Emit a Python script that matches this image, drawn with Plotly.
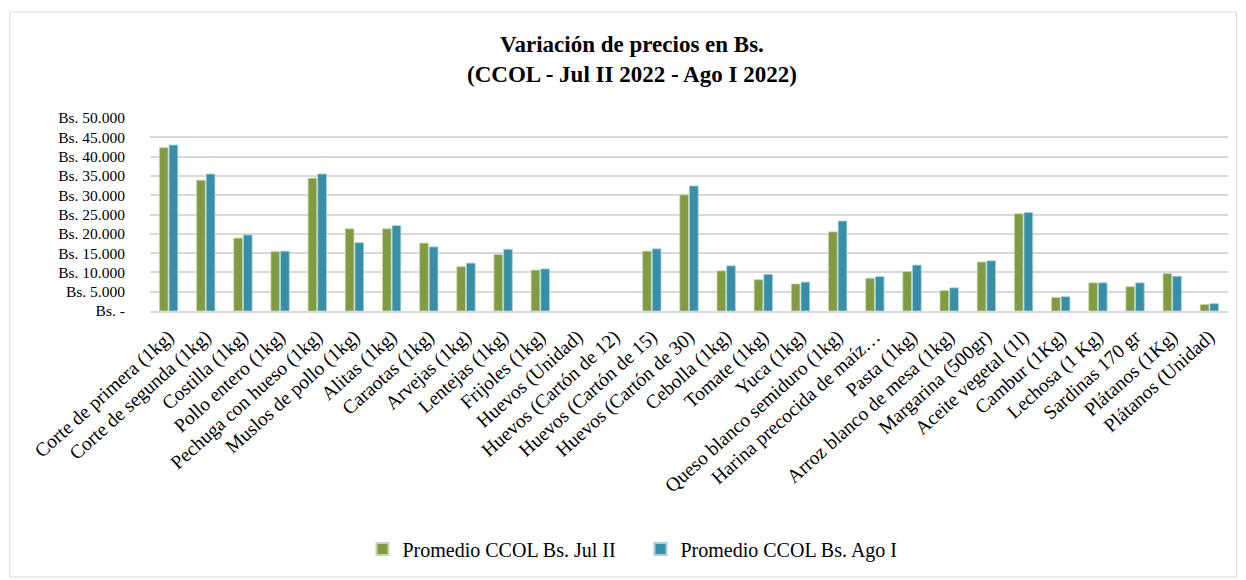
import plotly.graph_objects as go

# productos y precios promedio (Bs.)
productos = [
    "Corte de primera (1kg)", "Corte de segunda (1kg)", "Costilla (1kg)",
    "Pollo entero (1kg)", "Pechuga con hueso (1kg)", "Muslos de pollo (1kg)",
    "Alitas (1kg)", "Caraotas (1kg)", "Arvejas (1kg)", "Lentejas (1kg)",
    "Frijoles (1kg)", "Huevos (Unidad)", "Huevos (Cartón de 12)",
    "Huevos (Cartón de 15)", "Huevos (Cartón de 30)", "Cebolla (1kg)",
    "Tomate (1kg)", "Yuca (1kg)", "Queso blanco semiduro (1kg)",
    "Harina precocida de maíz…", "Pasta (1kg)", "Arroz blanco de mesa (1kg)",
    "Margarina (500gr)", "Aceite vegetal (1l)", "Cambur (1Kg)",
    "Lechosa (1 Kg)", "Sardinas 170 gr", "Plátanos (1Kg)", "Plátanos (Unidad)",
]
jul_ii = [42300, 33900, 18900, 15400, 34400, 21300, 21300, 17600, 11500, 14600,
          10600, None, None, 15500, 30100, 10400, 8100, 7000, 20500,
          8500, 10200, 5300, 12700, 25200, 3500, 7300, 6300, 9700, 1700]
ago_i = [43000, 35500, 19700, 15500, 35500, 17700, 22100, 16600, 12400, 16000,
         10900, None, None, 16100, 32400, 11700, 9500, 7500, 23300,
         8900, 11900, 6000, 13000, 25500, 3700, 7300, 7300, 9000, 1900]

tick_vals = [0, 5000, 10000, 15000, 20000, 25000, 30000, 35000, 40000, 45000, 50000]
tick_text = ["Bs. -", "Bs. 5.000", "Bs. 10.000", "Bs. 15.000", "Bs. 20.000",
             "Bs. 25.000", "Bs. 30.000", "Bs. 35.000", "Bs. 40.000",
             "Bs. 45.000", "Bs. 50.000"]

fuente = "Liberation Serif"

fig = go.Figure()
fig.add_trace(go.Bar(x=productos, y=jul_ii, name="Promedio CCOL Bs. Jul II",
                     marker=dict(color="#809b41", line=dict(color="#c9d6ad", width=0.8))))
fig.add_trace(go.Bar(x=productos, y=ago_i, name="Promedio CCOL Bs. Ago I",
                     marker=dict(color="#378fa7", line=dict(color="#a9d0dc", width=0.8))))

# la página tiene 8px de margen en el body, se compensa aquí
fig.update_layout(
    width=1238, height=572,
    paper_bgcolor="white", plot_bgcolor="white",
    font=dict(family=fuente, size=16, color="#000000"),
    title=dict(text="<b>Variación de precios en Bs.<br>(CCOL - Jul II 2022 - Ago I 2022)</b>",
               x=0.504, xanchor="center", y=0.923, yanchor="middle",
               font=dict(family=fuente, size=23)),
    margin=dict(l=142, r=18, t=110, b=269, autoexpand=False),
    barmode="group", bargap=0.48, bargroupgap=0.1,
    showlegend=True,
    legend=dict(orientation="h", x=0.455, xanchor="center", y=-1.233, yanchor="middle",
                font=dict(size=20), itemsizing="constant", traceorder="normal",
                itemwidth=30, entrywidth=233),
    shapes=[dict(type="rect", xref="paper", yref="paper",
                 x0=-0.13, x1=1.008, y0=-1.378, y1=1.549,
                 line=dict(color="#d9d9d9", width=1))],
)
fig.update_xaxes(tickangle=-42, showgrid=False, showline=True, linecolor="#d9d9d9",
                 linewidth=1.5, tickfont=dict(size=19.5), automargin=False,
                 ticks="outside", ticklen=5, tickcolor="rgba(0,0,0,0)")
fig.update_yaxes(range=[0, 50000], tickvals=tick_vals, ticktext=tick_text,
                 showgrid=True, gridcolor="#d9d9d9", gridwidth=1.5, zeroline=False,
                 tickfont=dict(size=15.5), automargin=False,
                 ticks="outside", ticklen=21, tickcolor="rgba(0,0,0,0)")

fig.write_html("out.html")
